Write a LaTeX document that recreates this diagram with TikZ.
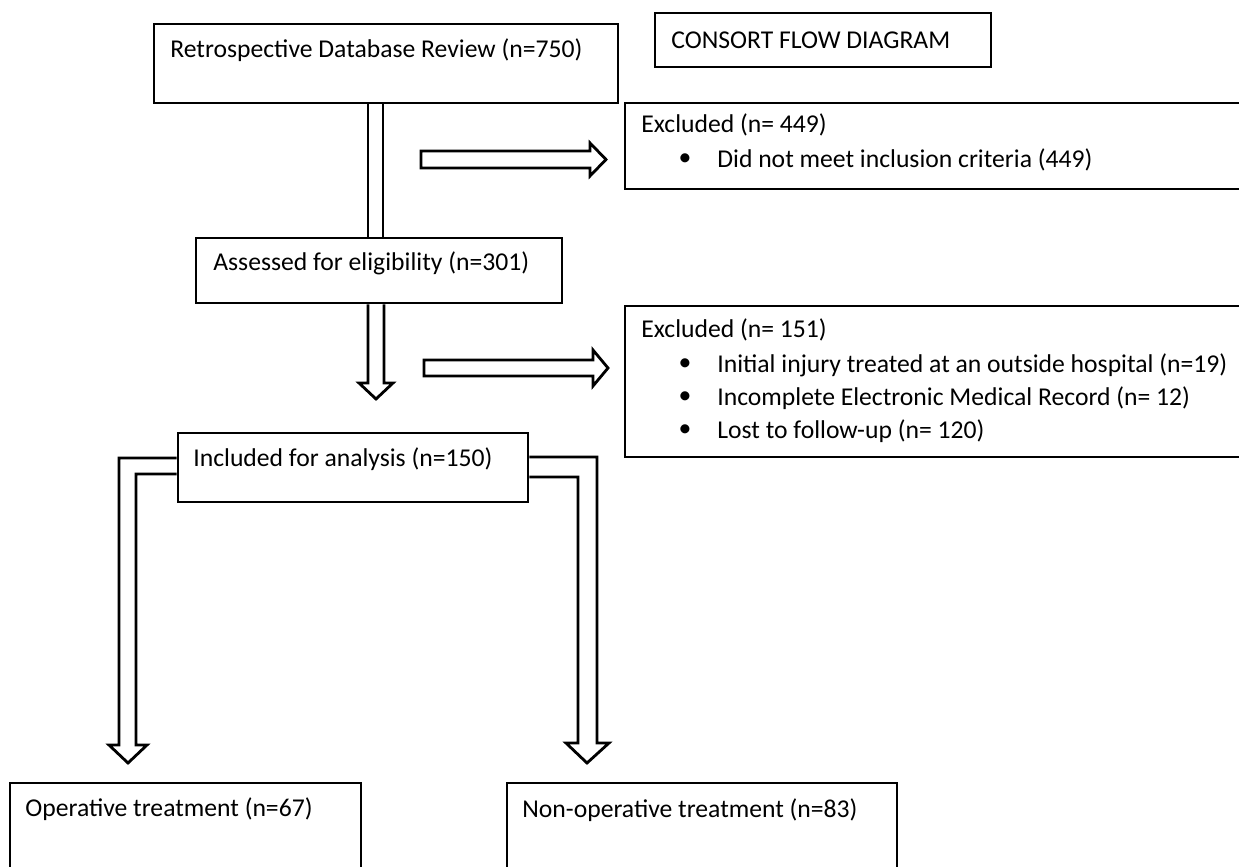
\documentclass[tikz,border=0pt]{standalone}
\usepackage{fontspec}
\setmainfont{Carlito}
\usetikzlibrary{fit}
\begin{document}
\begin{tikzpicture}[x=0.02cm,y=-0.02cm,
  box/.style={draw=black, line width=1.6pt, inner sep=0pt, fill=white},
  txt/.style={anchor=west, inner sep=0pt, font=\fontsize{14.6}{17}\selectfont},
  bul/.style={anchor=center, inner sep=0pt, font=\fontsize{14.6}{17}\selectfont},
  blk/.style={draw=black, line width=1.6pt, line join=miter, fill=white}]
\useasboundingbox[fill=white] (0,0) rectangle (1239,866);
\clip (0,0) rectangle (1239,866);
% boxes
\node[box, fit={(154,24) (618,103)}] (b1) {};
\node[box, fit={(655,13) (991,67)}] (title) {};
\node[box, fit={(625,103) (1265,189)}] (ex1) {};
\node[box, fit={(625,306) (1265,457)}] (ex2) {};
\node[box, fit={(196,238) (562,303)}] (b2) {};
\node[box, fit={(178,433) (528,502)}] (b3) {};
\node[box, fit={(10,783) (361,890)}] (op) {};
\node[box, fit={(507,783) (897,890)}] (nop) {};
% texts
\node[txt] (t1) at (170,50) {Retrospective Database Review (n=750)};
\node[txt] (tt) at (671,40) {CONSORT FLOW DIAGRAM};
\node[txt] (e1h) at (641,125) {Excluded (n= 449)};
\node[bul] (e1a) at (685,160) {\textbullet};
\node[txt] (e1at) at (717,160) {Did not meet inclusion criteria (449)};
\node[txt] (e2h) at (641,330) {Excluded (n= 151)};
\node[bul] (e2a) at (685,365) {\textbullet};
\node[txt] (e2at) at (717,365) {Initial injury treated at an outside hospital (n=19)};
\node[bul] (e2b) at (685,398) {\textbullet};
\node[txt] (e2bt) at (717,398) {Incomplete Electronic Medical Record (n= 12)};
\node[bul] (e2c) at (685,431) {\textbullet};
\node[txt] (e2ct) at (717,431) {Lost to follow-up (n= 120)};
\node[txt] (t2) at (213,263) {Assessed for eligibility (n=301)};
\node[txt] (t3) at (193,459) {Included for analysis (n=150)};
\node[txt] (t4) at (25,809) {Operative treatment (n=67)};
\node[txt] (t5) at (522,810) {Non-operative treatment (n=83)};
% connector b1 -> b2 (double line)
\draw[line width=1.6pt] (b1.south -| 368,0) -- (b2.north -| 368,0);
\draw[line width=1.6pt] (b1.south -| 383,0) -- (b2.north -| 383,0);
% block arrow towards ex1
\coordinate (h1) at (606,159.5);
\draw[blk] (421,151) -- (590,151) -- (590,143) -- (h1) -- (590,176) -- (590,168) -- (421,168) -- cycle;
% vertical arrow b2 -> b3
\coordinate (v2) at (376,399);
\draw[blk] (b2.south -| 368,0) -- (368,383) -- (359,383) -- (v2) -- (393,383) -- (384,383) -- (b2.south -| 384,0);
% block arrow towards ex2
\coordinate (h2) at (608,368);
\draw[blk] (424,360) -- (593,360) -- (593,350) -- (h2) -- (593,386) -- (593,376) -- (424,376) -- cycle;
% L arrow b3 -> op
\coordinate (lt) at (128,763);
\draw[blk] (b3.west |- 0,458) -- (119,458) -- (119,745) -- (109,745) -- (lt) -- (147,745) -- (136,745) -- (136,474) -- (b3.west |- 0,474);
% L arrow b3 -> nop
\coordinate (rt) at (587,763);
\draw[blk] (b3.east |- 0,457) -- (597,457) -- (597,743) -- (609,743) -- (rt) -- (566,743) -- (578,743) -- (578,477) -- (b3.east |- 0,477);
\end{tikzpicture}
\end{document}
